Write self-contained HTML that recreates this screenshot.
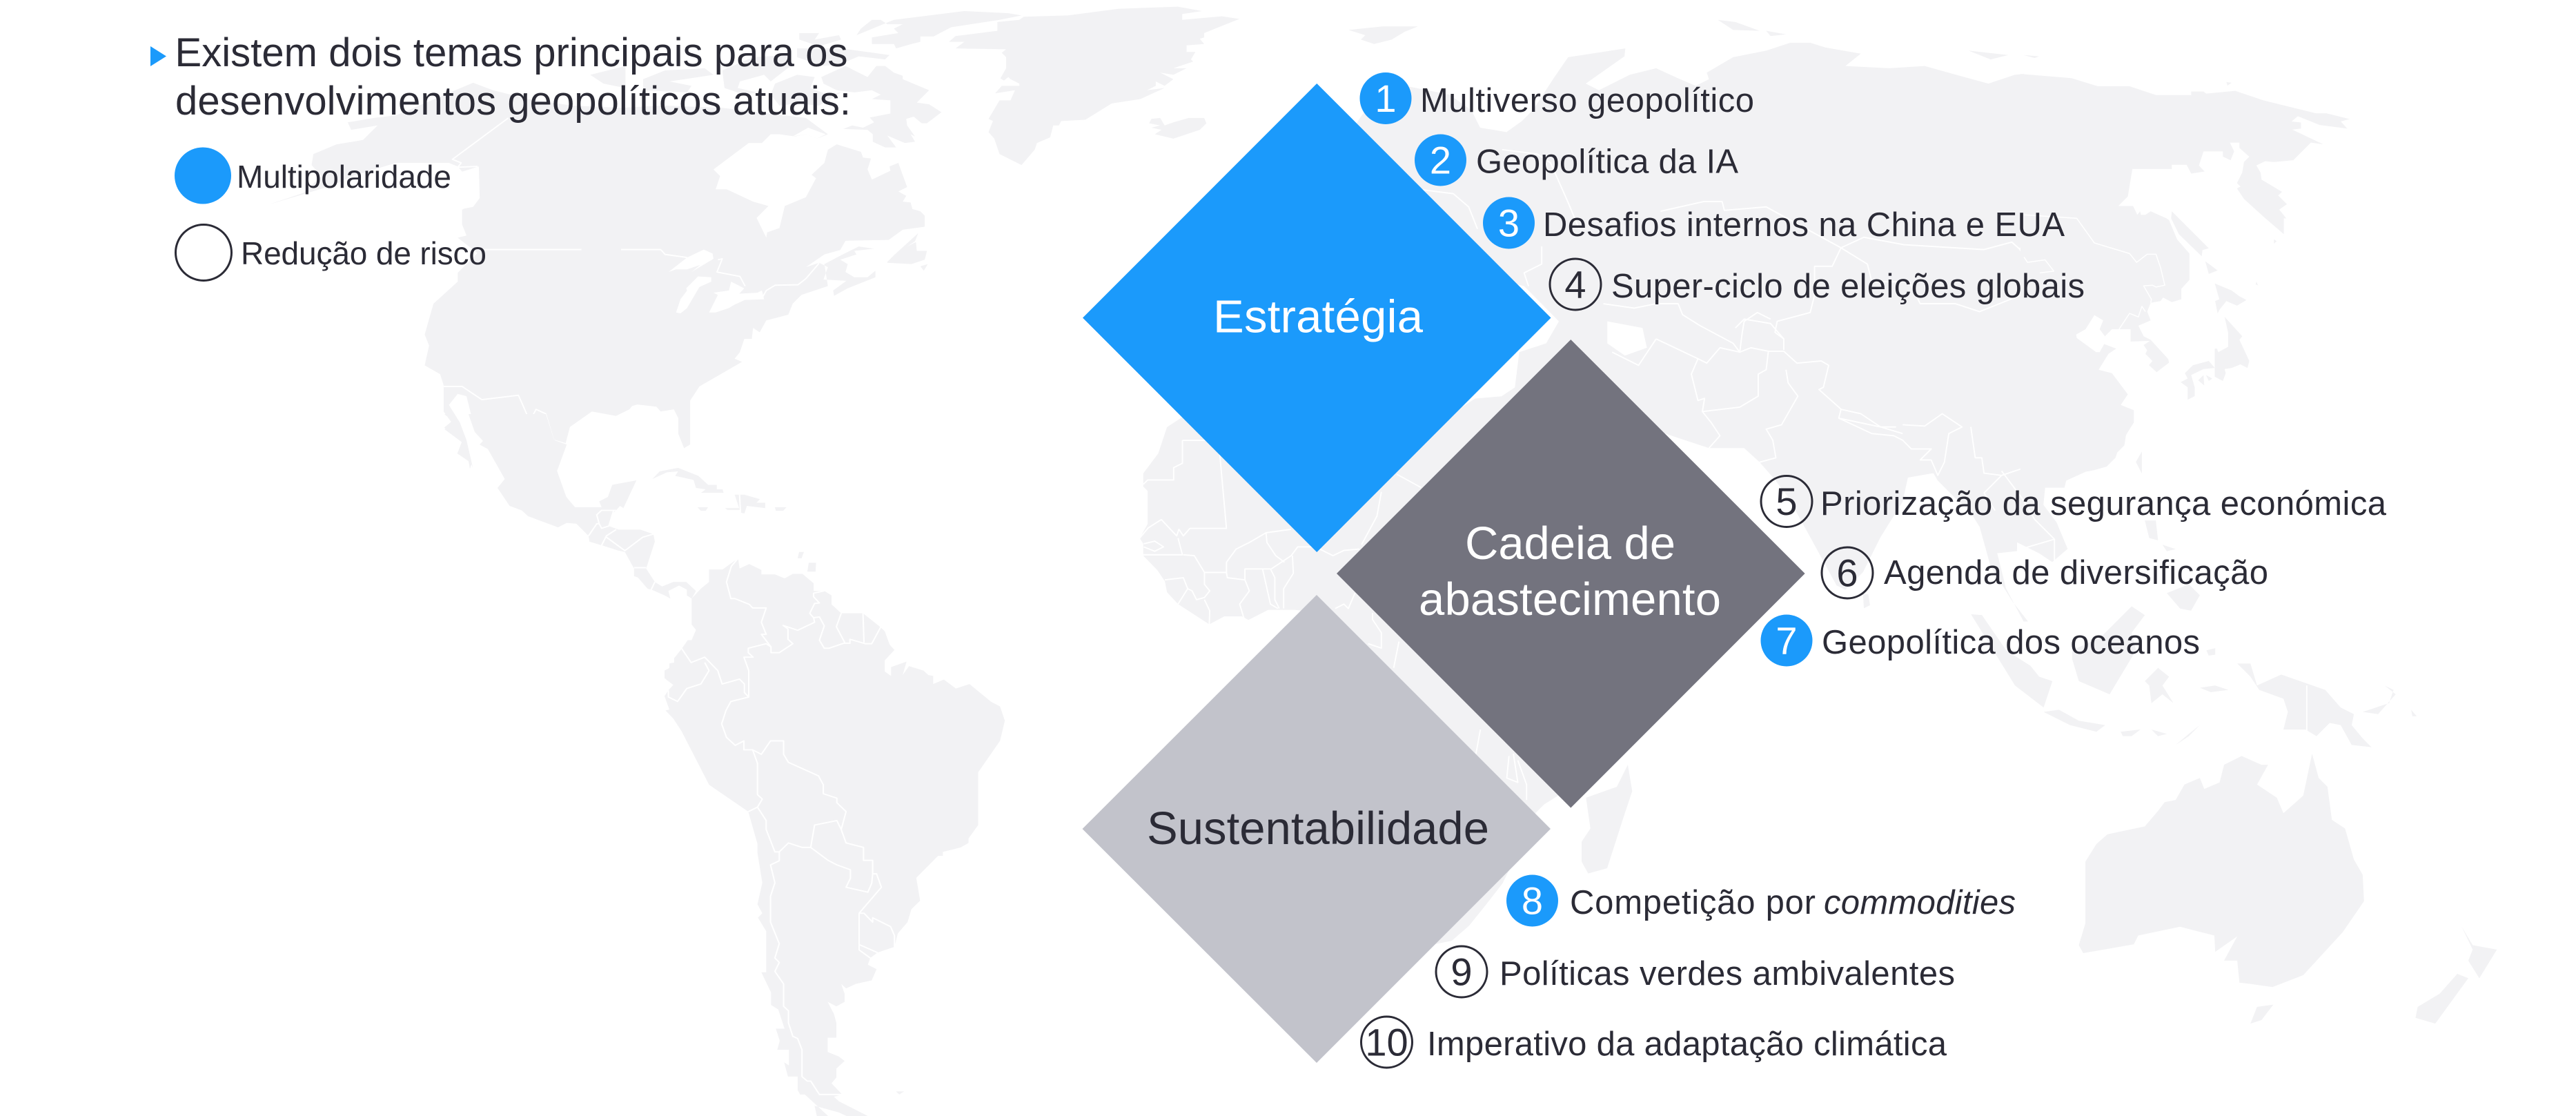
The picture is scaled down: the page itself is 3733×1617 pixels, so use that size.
<!DOCTYPE html>
<html lang="pt"><head><meta charset="utf-8"><title>Temas geopolíticos</title>
<style>
html,body{margin:0;padding:0;background:#fff}
svg{display:block}
text{font-family:"Liberation Sans",Arial,sans-serif;fill:#2b2b36}
.m polygon{fill:#f2f2f4;stroke:none}
.w polygon{fill:#fff;stroke:none}
.b polyline{fill:none;stroke:#fff;stroke-width:3;stroke-linejoin:round}
.t{font-size:49px}
.n{font-size:56px;text-anchor:middle}
.d{font-size:67px}
.hw{fill:#fff}
</style></head><body>
<svg xmlns="http://www.w3.org/2000/svg" width="3733" height="1617" viewBox="0 0 3733 1617">
<rect width="3733" height="1617" fill="#fff"/>

<!-- crop A -->
<g transform="scale(.63776)" class="m">
<polygon points="790,278 850,268 900,262 1075,188 1120,205 1200,225 1300,240 1411,245 1500,240 1500,925 1440,918 1430,930 1400,945 1345,935 1295,970 1285,1008 1100,1000 1075,960 1060,900 1040,895 1020,920 1045,960 1060,1000 1075,1065 1070,1050 1040,1030 1050,1005 1010,975 1030,965 1008,935 1008,875 1000,850 965,830 975,785 965,760 985,690 1040,640 1040,620 1085,575 1040,540 1060,535 1050,510 1050,475 1075,470 1090,450 1088,378 1050,390 1040,378 1020,370 900,370 800,400 760,420 610,465 690,438 730,400 708,375 712,350 765,328 825,318 858,285 798,295"/>
</g>
<g transform="scale(.63776)" class="b">
<polyline points="1155,268 1028,362 1048,370 1040,380 1085,378"/>
<polyline points="1085,378 1060,430 1085,450 1050,475"/>
<polyline points="1095,567 1500,567 1510,578 1568,585"/>
<polyline points="1008,878 1050,878 1095,908 1178,898 1190,925 1200,948 1210,945 1218,930 1240,940 1258,1000 1285,1008"/>
</g>

<!-- crop B -->
<g transform="translate(900,0) scale(.63776)">
<g class="m">
<polygon points="-90,250 100,240 230,245 420,268 470,305 445,315 420,305 395,310 360,305 340,305 320,325 290,325 210,385 225,400 215,430 240,430 300,458 335,468 308,495 330,540 332,528 360,518 372,468 420,448 443,405 433,397 462,370 470,340 490,328 545,345 550,358 568,360 560,385 570,408 612,388 610,378 630,370 650,425 630,435 648,445 640,458 658,460 662,475 680,480 690,490 690,515 640,522 608,545 510,547 498,568 462,578 420,607 450,597 470,607 460,635 512,638 482,660 484,672 515,655 578,630 578,615 560,630 530,630 510,618 515,600 498,590 535,578 530,570 575,565 540,560 500,580 462,600 470,650 410,670 390,690 380,715 330,728 315,755 300,745 297,770 280,770 270,800 258,815 275,822 178,878 157,910 157,1010 143,1018 130,985 130,950 120,930 90,935 75,918 40,918 0,930 -90,925"/>
<polygon points="605,595 620,580 675,530 668,548 650,560 670,550 672,570 695,570 690,590 660,600 605,597"/>
<polygon points="680,605 697,600 688,615"/>
<!-- arctic -->
<polygon points="50,180 100,160 190,155 210,170 110,185 160,195 150,210 110,208 50,205"/>
<polygon points="-70,170 10,150 10,200 -40,190"/>
<polygon points="230,160 300,130 380,125 385,150 340,185 325,170 270,185 265,200 310,210 280,215 235,200"/>
<polygon points="405,75 450,75 440,90 495,80 500,90 450,105 405,90"/>
<polygon points="350,190 400,170 440,175 430,200 470,215 500,210 450,240 400,235 360,240 340,215"/>
<polygon points="455,175 460,190 490,205 530,210 570,205 590,215 570,225 612,228 612,258 565,267 575,278 550,290 525,285 505,293 560,295 572,305 572,322 600,335 625,335 605,308 645,325 668,322 658,305 668,310 650,285 648,270 665,265 683,280 695,280 728,255 700,237 672,233 690,215 700,205 640,180 640,172 620,165 600,150 580,150 560,175 510,150"/>
<polygon points="400,110 500,110 610,125 600,135 540,128 500,145 460,150 400,130"/>
<polygon points="535,80 545,65 570,45 590,45 605,55 640,55 620,65 630,75 570,85 570,100 620,100 625,110 660,100 680,95 680,83 710,83 750,62 860,45 910,35 880,30 780,25 620,45"/>
<!-- Greenland -->
<polygon points="915,38 1015,35 1130,20 1265,15 1320,25 1275,32 1275,45 1365,37 1405,43 1325,75 1325,85 1315,88 1325,100 1285,103 1285,118 1305,118 1295,135 1300,140 1270,150 1255,155 1285,155 1255,170 1225,165 1255,180 1235,195 1215,185 1215,195 1195,205 1235,200 1180,225 1115,235 1055,272 1000,275 995,285 982,285 975,312 945,325 940,340 910,375 860,350 848,315 835,300 845,275 835,270 860,228 885,228 895,205 850,212 865,195 905,195 905,190 885,180 880,175 870,183 862,178 875,155 875,130 865,120 875,112 760,110 780,95 745,95 760,82 855,70 855,50 905,45"/>
<!-- Iceland -->
<polygon points="1205,270 1225,268 1235,285 1255,278 1290,268 1325,268 1330,280 1315,295 1255,315 1213,305 1228,295 1205,290 1225,285 1200,280"/>
</g>
<g class="w">
<polygon points="108,618 150,585 188,567 208,576 210,588 160,618 180,602 150,612 125,612"/>
<polygon points="125,710 135,680 150,660 148,655 175,628 205,630 205,640 178,652 150,700 135,712"/>
<polygon points="200,710 220,670 210,665 245,660 250,640 280,655 268,668 280,682 258,692 245,700 215,710"/>
<polygon points="255,668 310,665 320,660 325,680 265,682"/>
<polygon points="390,310 425,290 465,305 445,315 420,305"/>
</g>
<g class="b"><polyline points="0,567 90,567 100,578 150,585"/>
<polyline points="280,680 320,678 330,660 350,648 402,647 420,633 450,598"/>
<polyline points="220,590 230,588 218,618 270,628 282,650"/></g>
</g>

<!-- crop G: Central & South America -->
<g transform="translate(500,600) scale(.7015,.6486)">
<g class="m">
<polygon points="205,30 222,15 205,0 225,0 240,55 262,110 258,122 255,105 232,88 242,60"/>
<polygon points="255,0 268,40 285,60 278,68 295,78 330,145 315,165 340,205 365,215 378,228 440,253 458,243 478,245 503,272 505,285 530,293 565,305 578,308 597,345 597,362 605,365 625,390 635,393 660,405 672,412 668,395 690,383 706,392 706,405 716,412 725,395 705,375 678,375 655,385 640,375 622,345 640,285 637,268 610,258 565,258 545,250 555,220 560,215 568,205 575,210 602,148 552,158 543,185 525,195 530,208 475,208 457,185 438,127 458,68 432,58 415,0"/>
<polygon points="716,412 735,390 752,375 752,347 780,347 812,322 815,345 835,335 860,348 860,358 888,358 908,367 925,357 945,357 968,378 968,395 990,395 1005,405 1005,425 1025,445 1070,445 1105,475 1115,485 1125,515 1135,527 1115,550 1115,575 1128,585 1128,565 1160,553 1152,583 1165,563 1195,573 1205,583 1215,585 1215,603 1237,593 1262,613 1290,603 1335,643 1353,653 1363,685 1353,730 1308,800 1308,918 1288,948 1288,958 1272,968 1235,978 1235,987 1225,987 1180,1036 1188,1087 1170,1106 1162,1135 1142,1160 1135,1190 1100,1203 1085,1215 1080,1230 1098,1240 1088,1265 1055,1273 1035,1283 1025,1273 1032,1295 1032,1313 1015,1323 997,1313 1010,1340 1015,1360 1015,1393 997,1393 997,1425 1020,1435 1032,1445 1015,1462 1015,1482 1005,1495 1027,1520 1010,1525 1020,1535 1080,1568 1040,1570 1020,1560 970,1545 975,1570 1000,1570 950,1520 940,1520 935,1510 935,1480 915,1480 907,1448 917,1455 917,1420 893,1420 898,1400 890,1373 908,1373 895,1330 880,1320 880,1292 860,1247 870,1247 870,1155 853,1125 862,1115 852,1095 862,1047 852,980 852,960 833,888 752,828 695,708 678,680 662,662 670,660 660,630 668,617 678,605 660,590 660,573 670,567 670,557 680,555 680,545 695,525 708,505 716,505 725,482 716,470"/>
<polygon points="635,145 650,128 688,120 730,138 750,158 768,158 768,168 780,168 782,176 735,176 745,168 725,165 720,147 682,138 688,128 665,130"/>
<polygon points="805,180 825,180 857,190 850,198 868,198 868,210 830,205 825,222 817,220"/>
<polygon points="728,208 750,208 745,216 735,216"/>
<polygon points="785,210 815,210 815,214 790,214"/>
<polygon points="888,208 912,208 905,216 890,216"/>
<polygon points="938,308 948,308 943,322 935,322"/>
<polygon points="958,332 973,332 972,352 955,352"/>
<polygon points="1138,1513 1155,1513 1145,1520"/>
</g>
<g class="w"><polygon points="882,1335 895,1342 893,1362 888,1362"/><polygon points="1020,1345 1028,1338 1033,1348 1025,1353"/></g>
<g class="b">
<polyline points="812,322 798,340 788,375 797,412 805,412 835,425 842,433 870,433 860,465 870,492 860,492 880,520 880,533 897,533 925,513 915,503 915,480 905,472 935,483 970,465 968,455 960,445 970,423 980,422 968,408 968,400 990,395"/>
<polyline points="968,455 980,453 990,473 980,505 990,523 1000,523 1030,512 1043,512 1043,503 1075,513 1088,513 1107,475"/>
<polyline points="1070,445 1072,510"/><polyline points="1025,445 1015,475 1033,512"/>
<polyline points="880,520 870,513 833,523 833,533 843,543 824,543 834,573 834,632 797,642 787,662 778,692 788,722 806,740 824,730 824,750 842,750 860,760 879,730 906,730 906,760 916,778 978,808 988,828 988,848 1016,858 1016,868 1035,888 1025,928 1035,958 1071,968 1071,997 1090,997 1090,1027 1098,1027 1108,1057 1062,1115 1062,1197 1085,1215"/>
<polyline points="695,523 715,555 743,543 770,573 779,603 815,592 825,603 825,622 834,632"/>
<polyline points="743,555 752,573 735,603 706,613 687,642 668,632 668,617"/>
<polyline points="842,750 852,780 852,850 862,860 852,878 870,908 870,928 888,978 897,978 916,958 944,968 962,968 998,997 1016,1007 1044,1018 1044,1037 1035,1057 1080,1068 1088,1048 1090,1027"/>
<polyline points="962,968 970,918 1016,908 1025,928"/>
<polyline points="852,878 833,888"/>
<polyline points="897,978 897,998 879,1007 888,1047 879,1077 879,1135 897,1183 888,1215 897,1225 888,1245 906,1273 906,1323 916,1333 916,1360 925,1390 935,1395 944,1420 944,1480 955,1490 962,1490 980,1520 1027,1520"/>
<polyline points="1062,1115 1072,1115 1090,1135 1090,1125 1127,1145 1135,1165 1135,1190"/>
<polyline points="1100,1203 1062,1185"/>
<polyline points="560,215 530,215 520,225 525,245 520,245 503,272"/>
<polyline points="555,215 545,250 530,255 525,245"/>
<polyline points="530,293 540,272 560,258"/>
<polyline points="540,275 578,305 615,275 637,268"/>
<polyline points="597,343 622,343"/><polyline points="640,375 632,393"/>
<polyline points="815,180 817,220"/>
</g>
</g>

<!-- crop E: Africa -->
<g transform="translate(1600,617) scale(.63776)">
<g class="m">
<polygon points="143,3 300,-100 700,-100 773,-17 843,-62 903,-67 933,-87 1000,-60 1100,100 1300,300 1200,500 1100,700 1040,835 1000,860 960,900 925,1000 905,1040 870,1085 830,1135 790,1170 750,1178 600,1000 450,420 433,418 373,418 328,441 313,433 273,433 239,451 168,405 143,378 138,353 121,328 89,295 89,268 81,255 99,223 99,148 89,138 89,108 123,63 133,33"/>
<polygon points="1190,770 1200,830 1180,890 1143,1005 1100,1017 1085,990 1085,945 1105,915 1095,845 1165,820"/>
</g>
<g class="b">
<polyline points="178,33 260,33 278,233 195,233 180,250 170,235 165,250 130,213 100,232 81,255"/>
<polyline points="178,33 178,85 158,95 158,123 99,123 89,133"/>
<polyline points="88,293 178,293 168,255"/>
<polyline points="90,268 115,262 135,275 115,285 90,275"/>
<polyline points="180,293 205,295 228,333 278,333 280,345 320,350 330,375 308,405 318,438"/>
<polyline points="138,350 180,345 190,370 168,405"/>
<polyline points="190,370 200,375 210,395 228,390 240,375 228,360 228,333"/>
<polyline points="228,395 240,420 239,451"/>
<polyline points="320,350 320,325 360,325 378,405 395,415"/>
<polyline points="360,325 378,325 388,345 388,395 398,415"/>
<polyline points="408,415 408,370 430,335 428,295"/>
<polyline points="278,333 278,310 300,280 330,265 368,243 425,235"/>
<polyline points="368,243 370,265 390,295 410,310"/>
<polyline points="380,325 410,305 425,295 440,275 480,275 520,295 545,283 580,280"/>
<polyline points="630,150 620,205 585,270"/>
<polyline points="665,110 720,140"/>
<polyline points="525,415 545,405 555,415 570,380"/>
<polyline points="610,425 610,440 630,470 630,505 600,495"/>
<polyline points="670,490 658,550"/>
<polyline points="855,690 845,745"/>
<polyline points="920,750 915,800 940,810 930,745"/>
<polyline points="940,760 960,815 960,850"/>
</g>
</g>

<!-- crop D: Eurasia -->
<g transform="translate(2400,0) scale(.63776)">
<g class="m">
<polygon points="-700,310 -671,265 -640,225 -570,195 -470,215 -420,250 -400,290 -340,300 -305,275 -280,250 -231,175 -200,130 -70,110 -72,128 -160,190 -130,205 -60,170 0,155 50,178 90,195 120,180 115,165 175,130 250,115 305,97 350,97 385,108 465,122 430,150 530,155 610,150 700,175 755,190 815,170 836,168 925,1092 885,1097 880,1147 910,1187 935,1247 900,1277 870,1257 820,1232 820,1252 775,1257 795,1337 835,1412 845,1412 810,1367 760,1287 735,1197 710,1157 680,1132 640,1092 630,1075 572,1085 560,1140 510,1220 470,1300 430,1340 410,1330 350,1220 300,1130 270,1090 235,1050 200,1018 120,1018 20,985 -50,1050 -300,1000 -321,880 -311,800 -250,780 -221,730 -300,650 -500,600 -700,500"/>
<polygon points="-699,68 -621,60 -541,60 -571,72 -601,90 -641,100 -671,90 -661,80"/>
<polygon points="140,45 180,50 235,70 175,68"/><polygon points="250,70 295,78 260,82"/>
<polygon points="710,115 800,125 760,135"/><polygon points="835,125 870,128 860,132"/>
<polygon points="470,1350 482,1350 486,1375 472,1382"/>
</g>
<g class="w">
<polygon points="-111,730 -31,745 -21,790 -71,808 -111,780"/>
</g>
<g class="b">
<polyline points="-350,340 -270,350 -240,370 -200,460 -175,520"/>
<polyline points="-541,430 -461,440 -426,470 -406,520"/>
<polyline points="-260,560 -260,600 -300,620 -290,650"/>
<polyline points="10,480 108,458 150,458 155,478 250,470 420,563 400,605 360,605 360,670 350,710 275,730 270,755 290,770 290,795"/>
<polyline points="420,563 472,539 563,556 745,567 808,550 825,565 880,540"/>
<polyline points="420,563 480,600 490,640 575,640 600,690 680,690 735,708 830,670 900,640 905,615 880,590 850,600 825,565"/>
<polyline points="0,690 50,690 60,715 100,740 175,780 190,800 195,760 200,730 230,710 260,725"/>
<polyline points="180,745 200,725 260,735 290,770"/>
<polyline points="-120,690 -50,700 0,690"/>
<polyline points="0,770 95,815 115,825 145,790 190,800 215,790 255,798 290,798 320,825 375,820 392,830 380,880 370,885 415,925 420,930 415,950 510,970 545,970"/>
<polyline points="420,930 465,940 510,970 560,985"/>
<polyline points="560,965 610,968 650,940 695,970 665,985 655,1050 640,1080 625,1045 600,1045 625,1020 580,1020 560,1000 540,990 490,985 415,950"/>
<polyline points="295,840 300,870 322,900 285,965 250,975 265,1000 272,1040 235,1050"/>
<polyline points="190,925 232,900 232,850 250,840 255,798"/>
<polyline points="95,815 80,850 95,910 110,905 105,935 190,925"/>
<polyline points="105,935 125,960 145,990 120,1018"/>
<polyline points="715,970 725,1040 740,1040 745,1075 785,1080 845,1060 890,1090 930,1095"/>
<polyline points="785,1070 830,1130 860,1180 905,1225 905,1290"/>
<polyline points="785,1080 745,1120 770,1160"/>
<polyline points="820,1250 905,1225"/>
<polyline points="-100,800 -40,830 0,770"/>
</g>
</g>

<!-- crop H: East Asia -->
<g transform="translate(2933,0) scale(.5102)">
<g class="m">
<polygon points="-10,210 135,222 210,245 300,245 375,270 475,270 475,260 510,260 540,283 495,268 600,258 680,285 830,322 860,322 925,338 900,345 918,365 840,355 778,330 760,345 787,348 787,365 762,368 850,410 815,405 765,455 710,460 685,458 660,470 672,490 675,510 700,525 733,545 722,555 747,580 725,595 745,620 738,620 738,665 680,615 625,565 605,535 615,530 605,520 620,490 625,460 640,445 612,420 612,405 585,405 597,430 587,455 565,445 565,430 510,430 497,470 513,487 475,493 462,468 420,468 420,480 308,480 295,558 268,585 310,585 322,610 330,600 332,610 345,610 360,600 405,620 412,625 435,680 470,720 470,795 447,820 447,850 420,858 395,845 388,855 360,860 350,885 360,910 325,925 340,955 360,965 410,1020 412,1030 377,1057 355,1037 365,1025 345,1005 350,995 340,980 358,968 303,970 303,935 250,935 230,955 215,935 225,910 200,895 175,935 148,950 150,960 205,1000 215,1000 228,977 262,990 240,1005 212,1050 250,1060 295,1120 275,1150 312,1165 312,1200 290,1235 285,1265 265,1285 260,1300 235,1325 200,1335 175,1340 120,1365 115,1385 -10,1385"/>
<polygon points="420,600 525,705 507,710 505,728 440,665 418,620"/>
<polygon points="515,742 550,768 525,778"/>
<polygon points="542,805 590,825 610,840 632,852 605,868 575,855 555,880 550,890 543,855 555,850"/>
<polygon points="570,900 620,955 612,965 640,1025 635,1045 615,1035 590,1045 570,1048 573,1060 565,1082 542,1070 542,990 548,990 552,1000 580,985 580,945"/>
<polygon points="542,1045 525,1025 480,1037 457,1060 465,1075 445,1085 465,1100 465,1135 485,1125 485,1100 475,1065 510,1048"/>
<polygon points="495,1080 510,1065 512,1095"/><polygon points="517,1065 535,1075 525,1082"/>
<polygon points="575,233 590,235 578,243"/><polygon points="710,680 718,685 710,692"/><polygon points="660,800 665,810 658,808"/>
<polygon points="335,1282 335,1345 318,1312"/>
</g>
<g class="b" style="stroke-width:4">
<polyline points="0,610 150,620 200,690 300,720 320,745 350,722 375,722 388,760 400,810 375,815 365,810 340,812 362,850 360,860"/>
<polyline points="0,730 10,745 60,738 85,770 45,775"/>
<polyline points="345,885 335,870 325,900 300,890 270,935"/>
</g>
</g>

<!-- crop F: SE Asia & Oceania -->
<g transform="translate(2700,617) scale(.63776)">
<g class="m">
<polygon points="245,428 270,430 325,510 380,545 400,570 430,580 410,640 345,590"/>
<polygon points="410,650 445,645 490,670 550,680 530,695 470,680"/>
<polygon points="585,695 630,690 610,705 590,705"/><polygon points="655,690 690,700 670,705"/>
<polygon points="710,725 740,700 765,680 740,705"/>
<polygon points="475,510 540,480 610,410 640,430 610,470 620,510 560,610 490,580 475,530"/>
<polygon points="640,580 670,550 695,570 680,590 705,630 680,610 655,630 650,590"/>
<polygon points="765,595 800,590 830,600 790,605"/>
<polygon points="780,510 800,505 800,520 785,522"/>
<polygon points="640,215 665,215 670,260 650,255"/><polygon points="680,270 710,280 690,285"/>
<polygon points="690,380 740,360 765,385 745,420 720,415"/>
<polygon points="850,540 880,540 895,590 950,565 1050,600 1085,640 1115,655 1110,680 1135,710 1155,730 1110,725 1085,680 1060,675 1030,705 1005,690 955,690 965,650 955,620 900,600 880,570"/>
<polygon points="1135,650 1195,630 1205,600 1185,590 1210,610 1170,655"/><polygon points="1245,645 1258,660 1248,660"/>
<polygon points="490,1180 505,1130 505,990 530,950 555,928 640,910 670,875 685,855 710,850 730,815 765,800 775,825 810,810 820,770 860,750 905,770 920,770 895,815 940,845 955,880 1000,840 1020,745 1035,800 1055,820 1065,895 1095,915 1115,985 1135,1020 1138,1080 1090,1150 1000,1248 930,1275 880,1268 855,1265 850,1215 820,1215 850,1160 800,1195 798,1158 720,1138 625,1158 615,1178 500,1198"/>
<polygon points="895,1320 932,1315 905,1350 880,1358"/>
<polygon points="1360,1138 1385,1180 1440,1190 1400,1255 1375,1215 1385,1190"/>
<polygon points="1350,1245 1375,1255 1300,1358 1255,1345 1260,1320 1310,1290"/>
</g>
<g class="b"><polyline points="1008,590 1008,705"/></g>
</g>

<!-- diamonds -->
<polygon points="1908.3,121 2247.5,460.5 1908.3,800 1569,460.5" fill="#1b9afb"/>
<polygon points="2276.3,492 2615.6,831 2276.3,1170.5 1937,831" fill="#73737e"/>
<polygon points="1908,862 2247,1201 1908,1540 1568.5,1201" fill="#c2c3cb"/>

<text class="d hw" x="1758" y="481.5" textLength="304" lengthAdjust="spacing">Estratégia</text>
<text class="d hw" x="2123" y="810" textLength="305" lengthAdjust="spacing">Cadeia de</text>
<text class="d hw" x="2056" y="891" textLength="438" lengthAdjust="spacing">abastecimento</text>
<text class="d" x="1662" y="1223" textLength="496" lengthAdjust="spacing">Sustentabilidade</text>

<!-- header -->
<polygon points="218,67 241,81.5 218,96" fill="#1b9afb"/>
<text font-size="58" x="253.5" y="96" textLength="975" lengthAdjust="spacing">Existem dois temas principais para os</text>
<text font-size="58" x="254" y="166" textLength="979" lengthAdjust="spacing">desenvolvimentos geopolíticos atuais:</text>
<circle cx="294" cy="254.5" r="41" fill="#1b9afb"/>
<circle cx="295" cy="366" r="40.5" fill="none" stroke="#2b2b36" stroke-width="3"/>
<text font-size="46" x="343" y="272" textLength="311" lengthAdjust="spacing">Multipolaridade</text>
<text font-size="46" x="349" y="383" textLength="356" lengthAdjust="spacing">Redução de risco</text>

<!-- numbered -->
<circle cx="2008" cy="142.5" r="37.5" fill="#1b9afb"/><text class="n hw" x="2008" y="162">1</text>
<circle cx="2087.5" cy="232" r="37.5" fill="#1b9afb"/><text class="n hw" x="2087.5" y="251.5">2</text>
<circle cx="2186.5" cy="323" r="37.5" fill="#1b9afb"/><text class="n hw" x="2186.5" y="342.5">3</text>
<circle cx="2283" cy="412" r="37" fill="none" stroke="#2b2b36" stroke-width="3"/><text class="n" x="2283" y="431.5">4</text>
<circle cx="2589" cy="726.5" r="37" fill="none" stroke="#2b2b36" stroke-width="3"/><text class="n" x="2589" y="746">5</text>
<circle cx="2677" cy="830" r="37" fill="none" stroke="#2b2b36" stroke-width="3"/><text class="n" x="2677" y="849.5">6</text>
<circle cx="2589" cy="928" r="37.5" fill="#1b9afb"/><text class="n hw" x="2589" y="947.5">7</text>
<circle cx="2220.5" cy="1305" r="37.5" fill="#1b9afb"/><text class="n hw" x="2220.5" y="1324.5">8</text>
<circle cx="2118" cy="1408" r="37" fill="none" stroke="#2b2b36" stroke-width="3"/><text class="n" x="2118" y="1427.5">9</text>
<circle cx="2009.5" cy="1510" r="37" fill="none" stroke="#2b2b36" stroke-width="3"/><text class="n" x="2009.5" y="1529.5">10</text>

<text class="t" x="2058" y="162" textLength="484" lengthAdjust="spacing">Multiverso geopolítico</text>
<text class="t" x="2139" y="250.5" textLength="380" lengthAdjust="spacing">Geopolítica da IA</text>
<text class="t" x="2236" y="342" textLength="756" lengthAdjust="spacing">Desafios internos na China e EUA</text>
<text class="t" x="2335" y="431" textLength="686" lengthAdjust="spacing">Super-ciclo de eleições globais</text>
<text class="t" x="2638" y="746" textLength="820" lengthAdjust="spacing">Priorização da segurança económica</text>
<text class="t" x="2730" y="846" textLength="557" lengthAdjust="spacing">Agenda de diversificação</text>
<text class="t" x="2640" y="947" textLength="548" lengthAdjust="spacing">Geopolítica dos oceanos</text>
<text class="t" x="2275" y="1324" textLength="356" lengthAdjust="spacing">Competição por</text>
<text class="t" x="2643" y="1324" font-style="italic" textLength="278" lengthAdjust="spacing">commodities</text>
<text class="t" x="2173" y="1427" textLength="660" lengthAdjust="spacing">Políticas verdes ambivalentes</text>
<text class="t" x="2068" y="1529" textLength="753" lengthAdjust="spacing">Imperativo da adaptação climática</text>
</svg>
</body></html>
